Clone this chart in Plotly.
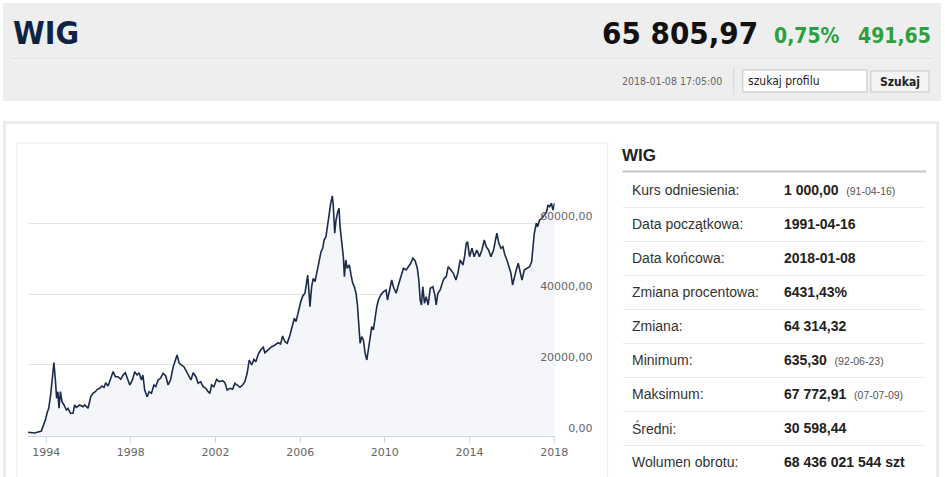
import plotly.graph_objects as go

# WIG - notowania (odczyt z wykresu)
dates = [
    "1993-02-22", "1993-06-16", "1993-10-10", "1993-11-07", "1993-12-18",
    "1994-01-23", "1994-02-14", "1994-03-19", "1994-04-17", "1994-05-15",
    "1994-06-09", "1994-07-01", "1994-07-23", "1994-08-10", "1994-09-04",
    "1994-10-01", "1994-11-05", "1994-12-16", "1995-01-13", "1995-02-24",
    "1995-04-09", "1995-05-07", "1995-06-06", "1995-08-03", "1995-09-28",
    "1995-10-28", "1995-12-24", "1996-02-10", "1996-03-19", "1996-04-28",
    "1996-06-04", "1996-07-13", "1996-08-22", "1996-09-26", "1996-10-25",
    "1996-12-04", "1997-01-20", "1997-02-28", "1997-04-10", "1997-05-25",
    "1997-07-11", "1997-08-20", "1997-09-28", "1997-11-05", "1997-12-14",
    "1998-01-28", "1998-03-09", "1998-04-18", "1998-05-22", "1998-07-03",
    "1998-07-28", "1998-08-28", "1998-10-09", "1998-11-13", "1998-12-23",
    "1999-02-03", "1999-03-07", "1999-04-16", "1999-05-27", "1999-07-11",
    "1999-08-27", "1999-10-06", "1999-11-17", "2000-01-03", "2000-02-12",
    "2000-03-09", "2000-04-14", "2000-05-24", "2000-07-03", "2000-08-20",
    "2000-10-04", "2000-11-03", "2000-12-12", "2001-01-28", "2001-03-07",
    "2001-04-18", "2001-06-02", "2001-07-18", "2001-08-27", "2001-09-26",
    "2001-10-25", "2001-12-04", "2002-01-20", "2002-03-05", "2002-05-03",
    "2002-06-12", "2002-07-21", "2002-09-07", "2002-10-23", "2002-12-02",
    "2003-01-11", "2003-02-27", "2003-04-13", "2003-05-22", "2003-07-01",
    "2003-08-06", "2003-09-17", "2003-10-25", "2003-11-28", "2004-01-09",
    "2004-02-19", "2004-04-04", "2004-05-03", "2004-06-28", "2004-08-27",
    "2004-10-23", "2004-12-19", "2005-01-28", "2005-03-04", "2005-04-14",
    "2005-05-23", "2005-07-09", "2005-08-25", "2005-09-22", "2005-10-21",
    "2005-11-28", "2006-01-11", "2006-02-15", "2006-03-24", "2006-04-11",
    "2006-05-10", "2006-06-02", "2006-06-19", "2006-07-18", "2006-08-15",
    "2006-09-14", "2006-10-24", "2006-11-27", "2006-12-27", "2007-01-25",
    "2007-02-18", "2007-03-22", "2007-04-14", "2007-05-18", "2007-06-12",
    "2007-07-09", "2007-07-26", "2007-08-20", "2007-09-12", "2007-10-11",
    "2007-11-03", "2007-11-20", "2007-12-19", "2008-01-16", "2008-02-03",
    "2008-02-27", "2008-03-24", "2008-04-28", "2008-05-28", "2008-06-26",
    "2008-07-24", "2008-08-22", "2008-09-15", "2008-10-09", "2008-10-31",
    "2008-11-28", "2008-12-27", "2009-01-26", "2009-02-24", "2009-03-22",
    "2009-04-21", "2009-05-20", "2009-06-17", "2009-07-16", "2009-08-15",
    "2009-09-12", "2009-10-23", "2009-12-08", "2010-01-23", "2010-02-15",
    "2010-03-20", "2010-04-30", "2010-05-28", "2010-07-14", "2010-08-23",
    "2010-10-04", "2010-11-18", "2011-01-04", "2011-02-13", "2011-03-24",
    "2011-04-28", "2011-06-07", "2011-07-16", "2011-08-10", "2011-09-03",
    "2011-09-24", "2011-10-18", "2011-11-16", "2011-12-15", "2012-01-19",
    "2012-02-23", "2012-04-09", "2012-05-13", "2012-06-05", "2012-07-04",
    "2012-08-13", "2012-09-17", "2012-10-21", "2012-11-25", "2012-12-29",
    "2013-02-15", "2013-03-29", "2013-05-11", "2013-06-14", "2013-07-24",
    "2013-09-10", "2013-10-07", "2013-11-06", "2013-11-28", "2014-01-02",
    "2014-02-13", "2014-03-22", "2014-05-08", "2014-06-22", "2014-08-03",
    "2014-09-12", "2014-10-16", "2014-11-25", "2015-01-06", "2015-02-20",
    "2015-03-25", "2015-04-18", "2015-05-23", "2015-06-26", "2015-07-31",
    "2015-09-04", "2015-10-09", "2015-11-13", "2015-12-17", "2016-01-14",
    "2016-02-13", "2016-03-17", "2016-04-21", "2016-05-25", "2016-06-24",
    "2016-08-03", "2016-09-19", "2016-11-03", "2016-12-08", "2017-01-02",
    "2017-01-23", "2017-02-27", "2017-03-20", "2017-04-24", "2017-06-05",
    "2017-07-14", "2017-08-18", "2017-09-17", "2017-10-14", "2017-11-13",
    "2017-12-12", "2018-01-08",
]
wig = [
    960, 760, 1330, 2540, 4440,
    6790, 7750, 11510, 15750, 20640,
    15750, 10570, 12440, 7750, 12440,
    9610, 8680, 7270, 7750, 6330,
    6330, 8680, 8030, 8680, 8200,
    8680, 7750, 11030, 11990, 12440,
    13120, 13400, 14050, 13680, 14980,
    14050, 16230, 18090, 16680, 16680,
    15940, 17160, 17810, 15750, 14330,
    15750, 18090, 17160, 17810, 15750,
    17160, 12920, 11030, 12440, 11990,
    14330, 13850, 15750, 16230, 17640,
    16880, 14330, 15750, 19510, 21880,
    22810, 20470, 19990, 19510, 18090,
    16680, 15750, 17810, 16680, 14810,
    15270, 13850, 13400, 12440, 11990,
    14330, 13850, 15940, 15270, 15550,
    14980, 12920, 13400, 13120, 14810,
    14330, 13680, 14330, 15270, 17640,
    21400, 19990, 21600, 20920, 23100,
    24230, 24990, 23460, 24230, 25160,
    25640, 26290, 25920, 28190, 26570,
    26120, 28470, 31300, 33190, 32230,
    35060, 37880, 39490, 40260, 42120,
    45430, 40710, 36470, 42120, 44500,
    43540, 46840, 49190, 52020, 52980,
    55320, 56260, 59080, 62870, 65700,
    67773, 65220, 57220, 60980, 63330,
    64290, 59080, 54390, 50600, 44950,
    49670, 47320, 48260, 45430, 43080,
    42120, 40260, 36950, 31780, 26120,
    27990, 27050, 23290, 21400, 24230,
    27540, 30810, 29880, 33640, 36470,
    38360, 39780, 40710, 41190, 38360,
    41190, 44020, 42120, 40260, 42600,
    44950, 47320, 46840, 47780, 48740,
    50150, 49470, 47320, 44020, 38360,
    36950, 42120, 37430, 39300, 36950,
    41670, 42120, 39780, 36950, 40260,
    41190, 43080, 44500, 44950, 47780,
    46840, 45910, 44020, 45910, 49670,
    48260, 50600, 54390, 54840, 50600,
    52980, 50600, 52500, 50600, 52500,
    55320, 53430, 52500, 50600, 52500,
    55320, 57220, 54390, 52980, 53430,
    51080, 49670, 47780, 45910, 42600,
    44950, 46840, 48740, 46360, 44020,
    46840, 47320, 47780, 49190, 53430,
    57220, 60050, 59080, 60980, 61460,
    62390, 63040, 65220, 64740, 65700,
    63810, 65806,
]

y_ticks = [0, 20000, 40000, 60000, 80000]
y_labels = ["0,00", "20000,00", "40000,00", "60000,00", ""]

# naglowek
index_name = "WIG"
last_value = "65 805,97"
change_pct = "0,75%"
change_abs = "491,65"
timestamp = "2018-01-08 17:05:00"

# tabela z prawej
row_labels = ["Kurs odniesienia:", "Data początkowa:", "Data końcowa:",
              "Zmiana procentowa:", "Zmiana:", "Minimum:", "Maksimum:",
              "Średni:", "Wolumen obrotu:"]
row_values = ["1 000,00", "1991-04-16", "2018-01-08", "6431,43%",
              "64 314,32", "635,30", "67 772,91", "30 598,44",
              "68 436 021 544 szt"]
row_notes = ["91-04-16", "", "", "", "", "92-06-23", "07-07-09", "", ""]

# uklad liczony w pikselach strony 945x477, zamieniany na ulamki papieru
W, H = 945, 477
FIG_W = 960


def px(x):
    return x / W


def py(y):
    return 1 - y / H


fig = go.Figure()
fig.add_trace(go.Scatter(
    x=dates, y=wig, mode="lines",
    line=dict(color="#1c2b4a", width=1.6),
    fill="tozeroy", fillcolor="#f4f6f9",
    hoverinfo="skip", showlegend=False,
))

shapes = []
# szare tlo naglowka
shapes.append(dict(type="rect", xref="paper", yref="paper", layer="below",
                   x0=px(3), x1=px(940), y0=py(101), y1=py(3),
                   fillcolor="#eeeeee", line=dict(width=0)))
shapes.append(dict(type="line", xref="paper", yref="paper",
                   x0=px(12), x1=px(931), y0=py(59), y1=py(59),
                   line=dict(color="#d7d7d7", width=1)))
shapes.append(dict(type="line", xref="paper", yref="paper",
                   x0=px(12), x1=px(931), y0=py(60), y1=py(60),
                   line=dict(color="#fafafa", width=1)))
shapes.append(dict(type="line", xref="paper", yref="paper",
                   x0=px(733), x1=px(733), y0=py(95), y1=py(67),
                   line=dict(color="#d5d5d5", width=1)))
# pole wyszukiwania i przycisk
shapes.append(dict(type="rect", xref="paper", yref="paper",
                   x0=px(742), x1=px(866), y0=py(92), y1=py(70),
                   fillcolor="#ffffff", line=dict(color="#c3c3c3", width=1)))
shapes.append(dict(type="rect", xref="paper", yref="paper",
                   x0=px(870), x1=px(928), y0=py(92), y1=py(71),
                   fillcolor="#f4f4f4", line=dict(color="#c6c6c6", width=1)))
# ramki panelu
shapes.append(dict(type="rect", xref="paper", yref="paper", layer="below",
                   x0=px(4.5), x1=px(936.5), y0=py(490), y1=py(122.5),
                   line=dict(color="#ececec", width=3)))
shapes.append(dict(type="rect", xref="paper", yref="paper", layer="below",
                   x0=px(17), x1=px(607), y0=py(490), y1=py(143),
                   line=dict(color="#ebebeb", width=1)))
# tabela
shapes.append(dict(type="line", xref="paper", yref="paper",
                   x0=px(622), x1=px(925), y0=py(171.5), y1=py(171.5),
                   line=dict(color="#c4c4c4", width=2)))
for i in range(len(row_labels) - 1):
    yy = 207.5 + i * 34
    shapes.append(dict(type="line", xref="paper", yref="paper",
                       x0=px(622), x1=px(925), y0=py(yy), y1=py(yy),
                       line=dict(color="#ebebeb", width=1)))

ann = []
cond = "DejaVu Sans Condensed, DejaVu Sans"
ann.append(dict(text="<b>" + index_name + "</b>", x=px(11), y=py(33),
                xanchor="left", font=dict(family=cond, size=32, color="#0f2444")))
ann.append(dict(text="<b>" + last_value + "</b>", x=px(759), y=py(33),
                xanchor="right", font=dict(family=cond, size=31, color="#111111")))
ann.append(dict(text="<b>" + change_pct + "</b>", x=px(771), y=py(36),
                xanchor="left", font=dict(family=cond, size=21, color="#2f9e3f")))
ann.append(dict(text="<b>" + change_abs + "</b>", x=px(932), y=py(36),
                xanchor="right", font=dict(family=cond, size=21, color="#2f9e3f")))
ann.append(dict(text=timestamp, x=px(723), y=py(81), xanchor="right",
                font=dict(family=cond, size=10.5, color="#666666")))
ann.append(dict(text="szukaj profilu", x=px(745), y=py(81), xanchor="left",
                font=dict(family=cond, size=12, color="#222222")))
ann.append(dict(text="<b>Szukaj</b>", x=px(899), y=py(82), xanchor="center",
                font=dict(family=cond, size=12, color="#222222")))

ann.append(dict(text="<b>" + index_name + "</b>", x=px(619), y=py(156),
                xanchor="left", font=dict(family="Liberation Sans, Arial", size=17, color="#222222")))
for i, (lab, val, note) in enumerate(zip(row_labels, row_values, row_notes)):
    yy = 190 + i * 34
    ann.append(dict(text=lab, x=px(629), y=py(yy), xanchor="left",
                    font=dict(family="Liberation Sans, Arial", size=14, color="#333333")))
    txt = "<b>" + val + "</b>"
    if note:
        txt += "\u00a0\u00a0<span style='font-size:10.5px;color:#555555'>(" + note + ")</span>"
    ann.append(dict(text=txt, x=px(781), y=py(yy), xanchor="left",
                    font=dict(family="Liberation Sans, Arial", size=14, color="#222222")))

for a in ann:
    a.update(xref="paper", yref="paper", yanchor="middle", showarrow=False)

fig.update_layout(
    width=FIG_W, height=H,
    margin=dict(l=0, r=0, t=0, b=0),
    paper_bgcolor="#ffffff", plot_bgcolor="#ffffff",
    shapes=shapes, annotations=ann,
    xaxis=dict(
        domain=[px(28), px(554)], type="date",
        range=[dates[0], dates[-1]],
        tick0="1994-01-01", dtick="M48", tickformat="%Y",
        showgrid=False, zeroline=False,
        showline=True, linecolor="#ccd6eb", linewidth=1,
        ticks="outside", ticklen=6, tickcolor="#ccd6eb",
        tickfont=dict(family="DejaVu Sans", size=11, color="#666666"),
        fixedrange=True,
    ),
    yaxis=dict(
        domain=[py(435.7), py(152.7)], range=[0, 80000],
        tickvals=y_ticks, ticktext=y_labels,
        showgrid=True, gridcolor="#e3e3e3", gridwidth=1,
        zeroline=False, showline=False, ticks="",
        anchor="free", position=px(592), side="left",
        ticklabelposition="outside top",
        tickfont=dict(family="DejaVu Sans", size=11, color="#666666"),
        fixedrange=True,
    ),
)

# bez marginesu i paskow przewijania
fig.write_html(
    "out.html",
    config={"displayModeBar": False},
    post_script="document.body.style.margin='0px';"
                "document.body.style.overflow='hidden';",
)
